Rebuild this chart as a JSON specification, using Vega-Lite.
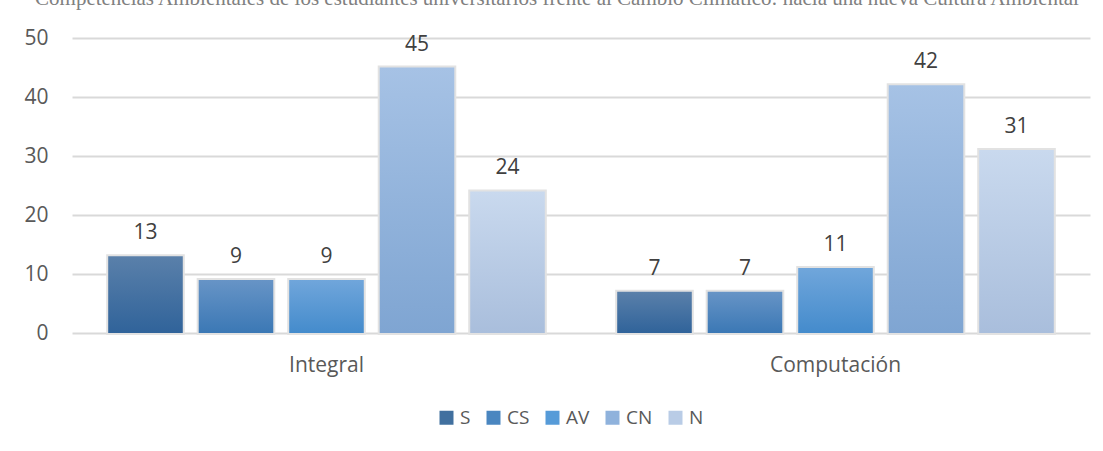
{
  "$schema": "https://vega.github.io/schema/vega-lite/v6.json",
  "width": 1018,
  "height": 295,
  "autosize": {"type": "none"},
  "padding": {"left": 72, "top": 38, "right": 13, "bottom": 118},
  "background": "white",
  "config": {"view": {"stroke": null}},
  "title": {
    "text": "Competencias Ambientales de los estudiantes universitarios frente al Cambio Climático: hacia una nueva Cultura Ambiental",
    "font": "Liberation Serif",
    "fontSize": 21,
    "fontWeight": "normal",
    "color": "#808080",
    "anchor": "middle",
    "frame": "bounds",
    "baseline": "bottom",
    "offset": -3
  },
  "data": {
    "values": [
      {"grupo": "Integral", "nivel": "S", "valor": 13},
      {"grupo": "Integral", "nivel": "CS", "valor": 9},
      {"grupo": "Integral", "nivel": "AV", "valor": 9},
      {"grupo": "Integral", "nivel": "CN", "valor": 45},
      {"grupo": "Integral", "nivel": "N", "valor": 24},
      {"grupo": "Computación", "nivel": "S", "valor": 7},
      {"grupo": "Computación", "nivel": "CS", "valor": 7},
      {"grupo": "Computación", "nivel": "AV", "valor": 11},
      {"grupo": "Computación", "nivel": "CN", "valor": 42},
      {"grupo": "Computación", "nivel": "N", "valor": 31}
    ]
  },
  "encoding": {
    "x": {
      "field": "grupo",
      "type": "nominal",
      "sort": ["Integral", "Computación"],
      "scale": {"paddingInner": 0, "paddingOuter": 0},
      "axis": {
        "title": null,
        "labelAngle": 0,
        "labelFont": "Open Sans",
        "labelFontSize": 21,
        "labelColor": "#595959",
        "labelPadding": 21,
        "domain": false,
        "ticks": false,
        "grid": false
      }
    },
    "xOffset": {
      "field": "nivel",
      "type": "nominal",
      "sort": ["S", "CS", "AV", "CN", "N"],
      "scale": {"domain": ["S", "CS", "AV", "CN", "N"], "paddingInner": 0.176, "paddingOuter": 0.4}
    },
    "y": {
      "field": "valor",
      "type": "quantitative",
      "scale": {"domain": [0, 50], "nice": false},
      "axis": {
        "title": null,
        "values": [0, 10, 20, 30, 40, 50],
        "labelFont": "Open Sans",
        "labelFontSize": 21,
        "labelColor": "#595959",
        "labelPadding": 24,
        "domain": false,
        "ticks": false,
        "gridColor": "#d9d9d9",
        "gridWidth": 2
      }
    }
  },
  "layer": [
    {
      "mark": {"type": "bar", "stroke": "#e2e2e2", "strokeWidth": 4},
      "encoding": {
        "color": {
          "field": "nivel",
          "type": "nominal",
          "sort": ["S", "CS", "AV", "CN", "N"],
          "scale": {"domain": ["S", "CS", "AV", "CN", "N"], "range": ["#41709f", "#4a86c0", "#569bd8", "#8fb2dc", "#b9cce6"]},
          "legend": {
            "title": null,
            "orient": "none",
            "legendX": 365,
            "legendY": 370,
            "direction": "horizontal",
            "symbolType": "square",
            "symbolSize": 196,
            "symbolStrokeWidth": 0,
            "labelFont": "Open Sans",
            "labelFontSize": 19,
            "labelColor": "#595959",
            "labelOffset": 4,
            "columnPadding": 13
          }
        }
      }
    },
    {
      "transform": [{"filter": "datum.nivel === 'S'"}],
      "mark": {"type": "bar", "color": {"gradient": "linear", "x1": 0, "y1": 0, "x2": 0, "y2": 1, "stops": [{"offset": 0, "color": "#5a80aa"}, {"offset": 1, "color": "#30639a"}]}}
    },
    {
      "transform": [{"filter": "datum.nivel === 'CS'"}],
      "mark": {"type": "bar", "color": {"gradient": "linear", "x1": 0, "y1": 0, "x2": 0, "y2": 1, "stops": [{"offset": 0, "color": "#6794c6"}, {"offset": 1, "color": "#3b78b5"}]}}
    },
    {
      "transform": [{"filter": "datum.nivel === 'AV'"}],
      "mark": {"type": "bar", "color": {"gradient": "linear", "x1": 0, "y1": 0, "x2": 0, "y2": 1, "stops": [{"offset": 0, "color": "#70a6db"}, {"offset": 1, "color": "#448bcc"}]}}
    },
    {
      "transform": [{"filter": "datum.nivel === 'CN'"}],
      "mark": {"type": "bar", "color": {"gradient": "linear", "x1": 0, "y1": 0, "x2": 0, "y2": 1, "stops": [{"offset": 0, "color": "#a6c2e5"}, {"offset": 1, "color": "#7fa5d2"}]}}
    },
    {
      "transform": [{"filter": "datum.nivel === 'N'"}],
      "mark": {"type": "bar", "color": {"gradient": "linear", "x1": 0, "y1": 0, "x2": 0, "y2": 1, "stops": [{"offset": 0, "color": "#c9d9ee"}, {"offset": 1, "color": "#a9bedc"}]}}
    },
    {
      "mark": {"type": "text", "font": "Open Sans", "fontSize": 21, "color": "#404040", "baseline": "alphabetic", "dy": -17},
      "encoding": {"text": {"field": "valor", "type": "quantitative"}}
    }
  ]
}
